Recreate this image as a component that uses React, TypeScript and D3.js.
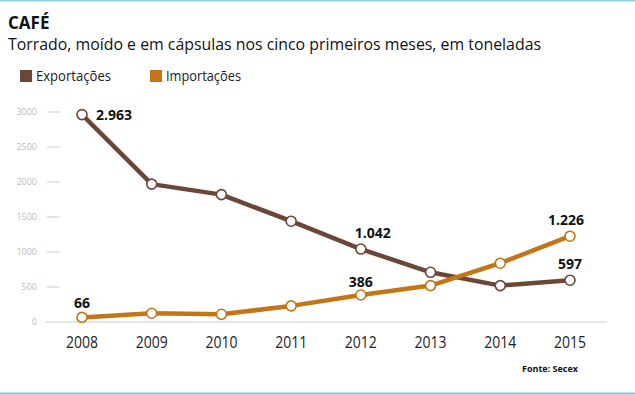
import React, { useRef, useEffect } from "react";
import * as d3 from "d3";

const years = [2008, 2009, 2010, 2011, 2012, 2013, 2014, 2015];
const exportacoes = [2963, 1970, 1820, 1440, 1042, 710, 520, 597];
const importacoes = [66, 125, 110, 230, 386, 520, 840, 1226];
const yTicks = [0, 500, 1000, 1500, 2000, 2500, 3000];

// which points get a value label, and where it sits relative to the dot
const exportLabels = [
  { i: 0, text: "2.963", dx: 14, dy: 5, anchor: "start" },
  { i: 4, text: "1.042", dx: 12, dy: -11, anchor: "middle" },
  { i: 7, text: "597", dx: 0, dy: -11, anchor: "middle" },
];
const importLabels = [
  { i: 0, text: "66", dx: 0, dy: -9, anchor: "middle" },
  { i: 4, text: "386", dx: 0, dy: -8, anchor: "middle" },
  { i: 7, text: "1.226", dx: -4, dy: -11, anchor: "middle" },
];

const BROWN = "#6b4737";
const ORANGE = "#c27618";
const FONT = "'Open Sans', 'DejaVu Sans', sans-serif";

export default function App() {
  const ref = useRef<SVGSVGElement>(null);

  useEffect(() => {
    const svg = d3.select(ref.current);
    svg.selectAll("*").remove();

    const x = d3.scalePoint<number>().domain(years).range([82, 570]);
    const y = d3.scaleLinear().domain([0, 3000]).range([322, 112]);

    // frame lines
    svg.append("line").attr("x1", 0).attr("x2", 635).attr("y1", 0.5).attr("y2", 0.5)
      .attr("stroke", "#8fd0e6").attr("stroke-width", 2);
    svg.append("line").attr("x1", 0).attr("x2", 635).attr("y1", 393.5).attr("y2", 393.5)
      .attr("stroke", "#7cc9e4").attr("stroke-width", 2);

    // title
    svg.append("text").attr("x", 8).attr("y", 29).text("CAFÉ")
      .attr("font-family", FONT).attr("font-weight", "bold").attr("font-size", 17).attr("fill", "#111");
    svg.append("text").attr("x", 8).attr("y", 50)
      .text("Torrado, moído e em cápsulas nos cinco primeiros meses, em toneladas")
      .attr("font-family", FONT).attr("font-size", 16).attr("fill", "#111")
      .attr("textLength", 533).attr("lengthAdjust", "spacingAndGlyphs");

    // legend
    const legend = [
      { name: "Exportações", color: BROWN, x: 20 },
      { name: "Importações", color: ORANGE, x: 150 },
    ];
    legend.forEach((l) => {
      svg.append("rect").attr("x", l.x).attr("y", 70).attr("width", 12).attr("height", 12).attr("fill", l.color);
      svg.append("text").attr("x", l.x + 16).attr("y", 81).text(l.name)
        .attr("font-family", FONT).attr("font-size", 14).attr("fill", "#222")
        .attr("textLength", 75).attr("lengthAdjust", "spacingAndGlyphs");
    });

    // y ticks
    const yg = svg.append("g");
    yTicks.forEach((t) => {
      yg.append("text").attr("x", 37).attr("y", y(t) + 3).attr("text-anchor", "end").text(t)
        .attr("font-family", FONT).attr("font-size", 9).attr("fill", "#bbb");
      if (t > 0) {
        yg.append("line").attr("x1", 47).attr("x2", 60).attr("y1", y(t)).attr("y2", y(t))
          .attr("stroke", "#ccc").attr("stroke-width", 1);
      }
    });
    svg.append("line").attr("x1", 46).attr("x2", 607).attr("y1", y(0)).attr("y2", y(0))
      .attr("stroke", "#ccc").attr("stroke-width", 1);

    // x labels
    years.forEach((yr) => {
      svg.append("text").attr("x", x(yr)!).attr("y", 348).attr("text-anchor", "middle").text(yr)
        .attr("font-family", FONT).attr("font-size", 16).attr("fill", "#222")
        .attr("textLength", 32).attr("lengthAdjust", "spacingAndGlyphs");
    });

    const line = d3.line<number>().x((_, i) => x(years[i])!).y((d) => y(d));

    const series = [
      { values: exportacoes, color: BROWN, labels: exportLabels },
      { values: importacoes, color: ORANGE, labels: importLabels },
    ];

    series.forEach((s) => {
      svg.append("path").attr("d", line(s.values)).attr("fill", "none")
        .attr("stroke", s.color).attr("stroke-width", 4.5).attr("stroke-linejoin", "round");
    });
    series.forEach((s) => {
      svg.append("g").selectAll("circle").data(s.values).enter().append("circle")
        .attr("cx", (_, i) => x(years[i])!).attr("cy", (d) => y(d)).attr("r", 5)
        .attr("fill", "white").attr("stroke", s.color).attr("stroke-width", 1.6);
      s.labels.forEach((l) => {
        svg.append("text").attr("x", x(years[l.i])! + l.dx).attr("y", y(s.values[l.i]) + l.dy)
          .attr("text-anchor", l.anchor).text(l.text)
          .attr("font-family", FONT).attr("font-weight", "bold").attr("font-size", 14).attr("fill", "#111");
      });
    });

    svg.append("text").attr("x", 578).attr("y", 372).attr("text-anchor", "end").text("Fonte: Secex")
      .attr("font-family", FONT).attr("font-weight", "bold").attr("font-size", 9).attr("fill", "#111");
  }, []);

  return (
    <svg ref={ref} width={635} height={395}
      style={{ position: "absolute", left: 0, top: 0, background: "white" }} />
  );
}
